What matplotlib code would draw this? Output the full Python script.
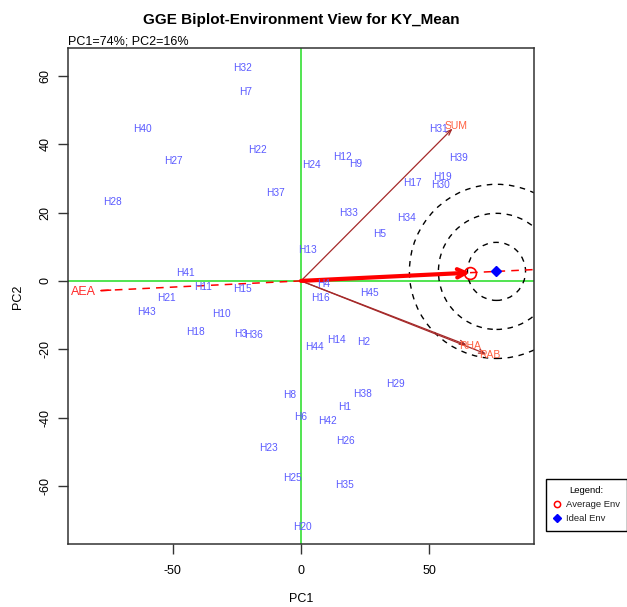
import matplotlib
matplotlib.use("Agg")
import matplotlib.pyplot as plt
from matplotlib.patches import Ellipse
from matplotlib.lines import Line2D

plt.rcParams['font.family'] = ['Liberation Sans', 'DejaVu Sans']
plt.rcParams['axes.unicode_minus'] = False

# genotype scores (PC1, PC2)
genotypes = ['H1', 'H2', 'H3', 'H4', 'H5', 'H6', 'H7', 'H8', 'H9', 'H10',
             'H11', 'H12', 'H13', 'H14', 'H15', 'H16', 'H17', 'H18', 'H19', 'H20',
             'H21', 'H22', 'H23', 'H24', 'H25', 'H26', 'H27', 'H28', 'H29', 'H30',
             'H31', 'H32', 'H33', 'H34', 'H35', 'H36', 'H37', 'H38', 'H39', 'H40',
             'H41', 'H42', 'H43', 'H44', 'H45']
gen_pc1 = [16.9, 24.3, -23.6, 8.7, 30.5, -0.1, -21.4, -4.3, 21.3, -30.9,
           -38.0, 16.1, 2.6, 13.9, -22.7, 7.7, 43.3, -40.9, 55.1, 0.4,
           -52.3, -17.1, -12.5, 4.2, -3.4, 17.4, -49.7, -73.4, 36.7, 54.2,
           53.4, -22.8, 18.6, 41.2, 16.9, -18.6, -10.0, 23.9, 61.4, -61.6,
           -45.1, 10.2, -60.3, 5.2, 26.5]
gen_pc2 = [-36.8, -17.8, -15.4, -0.9, 13.8, -39.8, 55.2, -33.4, 34.2, -9.6,
           -1.7, 36.2, 9.1, -17.4, -2.4, -5.0, 28.5, -15.0, 30.4, -72.1,
           -4.9, 38.2, -48.9, 33.9, -57.8, -46.9, 35.1, 23.0, -30.2, 28.1,
           44.4, 62.2, 19.9, 18.3, -59.8, -15.8, 25.8, -33.0, 35.9, 44.4,
           2.4, -41.1, -9.2, -19.3, -3.4]

# environment scores
environments = ['SUM', 'RHA', 'RAB']
env_pc1 = [60.5, 66.0, 73.5]
env_pc2 = [45.2, -19.0, -21.6]

# average environment and ideal environment
avg_env = (65.8, 2.4)
ideal_env = (76.1, 2.78)
aea_left = -79.0
ring_radii = [11.3, 22.6, 33.9]

xlim = (-90.7, 90.7)
ylim = (-77.0, 68.3)

fig = plt.figure(figsize=(6.27, 6.07), dpi=100)
ax = fig.add_axes([68 / 627, 63 / 607, 466 / 627, 496.5 / 607])
ax.set_xlim(*xlim)
ax.set_ylim(*ylim)

ax.axhline(0, color='#22dd22', lw=1.1, zorder=1)
ax.axvline(0, color='#22dd22', lw=1.1, zorder=1)

# concentric rings around the ideal point, kept round on screen
ax_w = ax.get_position().width * fig.get_figwidth()
ax_h = ax.get_position().height * fig.get_figheight()
ratio = (ax_w / (xlim[1] - xlim[0])) / (ax_h / (ylim[1] - ylim[0]))
for r in ring_radii:
    ax.add_patch(Ellipse(ideal_env, 2 * r, 2 * r * ratio, fill=False,
                         ec='black', lw=1.0, ls=(0, (4, 4)), zorder=2))

# average environment axis
slope = avg_env[1] / avg_env[0]
ax.plot([avg_env[0], xlim[1] + 5], [avg_env[1], slope * (xlim[1] + 5)],
        color='red', lw=1.1, ls=(0, (5, 4)), zorder=3)
ax.plot([0, aea_left], [0, slope * aea_left], color='red', lw=1.1,
        ls=(0, (5, 4)), zorder=3)
ax.annotate('', xy=(aea_left, slope * aea_left), xytext=(aea_left + 6, slope * (aea_left + 6)),
            arrowprops=dict(arrowstyle='-', color='red', lw=1.1))
ax.text(aea_left - 5.8, slope * aea_left - 0.4, 'AEA', color='#ff2a2a', fontsize=9,
        ha='center', va='center', zorder=5)
ax.annotate('', xy=avg_env, xytext=(0, 0),
            arrowprops=dict(arrowstyle='->,head_length=0.6,head_width=0.3', color='red',
                            lw=3, shrinkA=0, shrinkB=0), zorder=4)

# environment vectors
for name, x, y in zip(environments, env_pc1, env_pc2):
    ax.annotate('', xy=(x - 1.5, y - 0.6 * (1 if y > 0 else -0.4)), xytext=(0, 0),
                arrowprops=dict(arrowstyle='->,head_length=0.4,head_width=0.15',
                                color='#a52a2a', lw=0.9, shrinkA=0, shrinkB=0), zorder=3)
    ax.text(x, y, name, color='#ff6040', fontsize=7.5, ha='center', va='center', zorder=5)

ax.plot(*avg_env, 'o', mfc='none', mec='red', ms=8.5, mew=1.2, zorder=6)
ax.plot(*ideal_env, 'D', color='blue', ms=5.5, zorder=6)

for name, x, y in zip(genotypes, gen_pc1, gen_pc2):
    ax.text(x, y, name, color='#5a5aff', fontsize=7.3, ha='center', va='center', zorder=5)

ax.set_xticks([-50, 0, 50])
ax.set_yticks([-60, -40, -20, 0, 20, 40, 60])
ax.set_yticklabels(['-60', '-40', '-20', '0', '20', '40', '60'], rotation=90, va='center')
ax.tick_params(length=7, width=1, color='#333333', labelsize=9)
ax.tick_params(axis='x', pad=8)
ax.tick_params(axis='y', pad=5)
for s in ax.spines.values():
    s.set_color('#333333')
    s.set_linewidth(1.1)

fig.text(301 / 627, 1 - 20 / 607, 'GGE Biplot-Environment View for KY_Mean',
         ha='center', va='center', fontsize=11, fontweight='bold')
fig.text(68 / 627, 1 - 42 / 607, 'PC1=74%; PC2=16%', ha='left', va='center', fontsize=9)
fig.text(301 / 627, 1 - 599 / 607, 'PC1', ha='center', va='center', fontsize=9)
fig.text(18 / 627, 1 - 297 / 607, 'PC2', ha='center', va='center', fontsize=9, rotation=90)

handles = [Line2D([], [], marker='o', ls='none', mfc='none', mec='red', ms=4.5, mew=1.1),
           Line2D([], [], marker='D', ls='none', color='blue', ms=4.5)]
leg = fig.legend(handles, ['Average Env', 'Ideal Env'], title='Legend:',
                 loc='upper left', bbox_to_anchor=(546 / 627, 1 - 479 / 607),
                 fontsize=6.8, title_fontsize=6.8, fancybox=False, edgecolor='black',
                 framealpha=1, borderaxespad=0, handletextpad=0.5,
                 handlelength=0.9, labelspacing=0.55, borderpad=0.75,
                 alignment='center')
leg.get_frame().set_linewidth(1.0)
for t in leg.get_texts():
    t.set_color('#222222')

fig.savefig('out.png', dpi=100)
